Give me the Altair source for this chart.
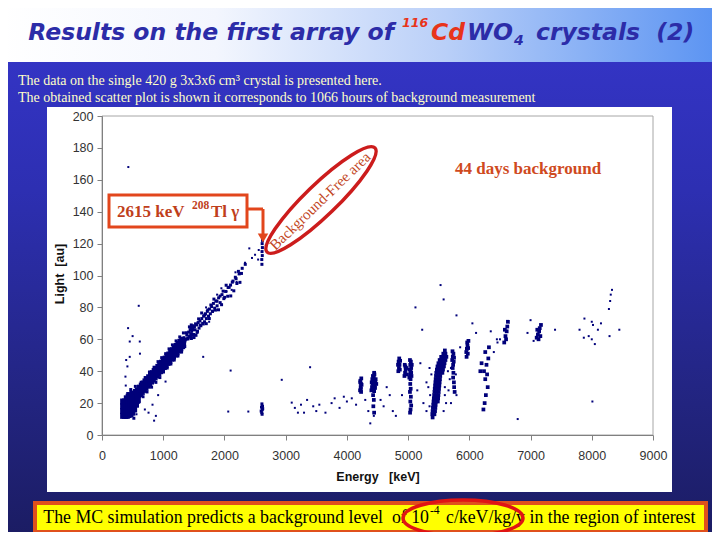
import altair as alt
import pandas as pd

# ---------------- data ----------------
x_ticks = [0, 1000, 2000, 3000, 4000, 5000, 6000, 7000, 8000, 9000]
y_ticks = [0, 20, 40, 60, 80, 100, 120, 140, 160, 180, 200]

# dense gamma band [energy keV, light au]
band_pts = [
    [345, 12], [345, 15], [345, 18], [345, 21],
    [375, 12], [375, 15], [375, 18], [375, 21],
    [405, 12], [405, 15], [405, 18], [405, 21], [405, 23],
    [435, 12.5], [435, 15.5], [435, 18.5], [435, 21.5], [435, 24],
    [465, 13], [465, 16], [465, 19], [465, 22], [465, 25],
    [495, 14], [495, 17], [495, 20], [495, 23], [495, 26],
    [525, 16], [525, 19], [525, 22], [525, 25],
    [555, 19], [555, 22], [555, 25], [555, 27],
    [585, 22], [585, 25], [585, 28], [605, 27],
    [620, 25.7], [620, 29.7], [650, 27.0], [650, 31.0],
    [680, 28.3], [680, 32.3], [710, 29.6], [710, 33.6],
    [740, 30.9], [740, 34.9], [770, 32.2], [770, 36.2],
    [800, 33.5], [800, 37.5], [830, 34.8], [830, 38.8],
    [860, 36.1], [860, 40.1], [890, 37.4], [890, 41.4],
    [920, 38.7], [920, 42.7], [950, 40.0], [950, 44.0],
    [980, 41.3], [980, 45.3], [1010, 42.6], [1010, 46.6],
    [1040, 43.9], [1040, 47.9], [1070, 45.2], [1070, 49.2],
    [1100, 46.5], [1100, 50.5], [1130, 47.9], [1130, 51.9],
    [1160, 49.2], [1160, 53.2], [1190, 50.5], [1190, 54.5],
    [1220, 51.8], [1220, 55.8], [1250, 53.1], [1250, 57.1],
    [1280, 54.4], [1280, 58.4], [1310, 55.7], [1310, 59.7],
    [635, 28.3], [665, 29.6], [695, 30.9], [725, 32.2], [755, 33.5],
    [785, 34.8], [815, 36.2], [845, 37.5], [875, 38.8], [905, 40.1],
    [935, 41.4], [965, 42.7], [995, 44.0], [1025, 45.3], [1055, 46.6],
    [1085, 47.9], [1115, 49.2], [1145, 50.5], [1175, 51.8], [1205, 53.1],
    [1235, 54.4], [1265, 55.7], [1295, 57.0], [1325, 58.3],
]

# speckled continuation of the band, its halo and the 2615 keV peak
trail_pts = [
    [1340, 57.5], [1340, 61], [1355, 59], [1370, 60], [1385, 63], [1400, 61],
    [1415, 64.5], [1430, 62], [1440, 66], [1450, 63.5], [1460, 60.5], [1460, 67.5],
    [1465, 65], [1475, 62.5], [1480, 68.5], [1490, 66], [1500, 63], [1510, 68],
    [1520, 66], [1535, 62.5], [1545, 69], [1560, 65], [1570, 70.5], [1585, 67],
    [1600, 71.5], [1615, 68.5], [1630, 73], [1645, 70], [1660, 74.5], [1675, 71],
    [1690, 76], [1705, 73], [1720, 77.5], [1740, 74.5], [1755, 79], [1770, 76],
    [1790, 80.5], [1805, 77.5], [1820, 82.5], [1840, 79.5], [1860, 84], [1880, 81],
    [1905, 86], [1930, 83], [1960, 88], [1990, 85.5], [2020, 90], [2060, 92.5],
    [2100, 94], [2140, 96.5], [2190, 98], [2240, 101], [2290, 104.5], [2340, 107],
    [1352, 55.5], [1378, 64.1], [1403, 60.2], [1428, 67.8], [1453, 60.9],
    [1478, 66.5], [1503, 61.1], [1528, 69.7], [1553, 64.3], [1578, 72.8],
    [1603, 68.9], [1628, 76.5], [1653, 69.6], [1678, 75.2], [1703, 69.8],
    [1728, 78.4], [1753, 73.0], [1778, 81.5], [1803, 77.6], [1828, 85.2],
    [1853, 78.3], [1878, 83.9], [1903, 78.5], [1928, 87.1], [1953, 81.7],
    [1978, 90.2], [2003, 86.3], [2028, 93.9], [2053, 87.0], [2078, 92.6],
    [2103, 87.2], [2128, 95.8], [2153, 90.4], [2178, 98.9], [2203, 95.0],
    [2228, 102.6], [2253, 95.7], [2278, 101.3],
    [1455, 66], [1462, 63], [1470, 67], [1448, 61.5], [1458, 69],
    [420, 26], [470, 28.5], [520, 10.5], [545, 30.5], [600, 20.5], [640, 33],
    [670, 24], [705, 36], [735, 27], [775, 39.5], [810, 30], [850, 42.5],
    [880, 33], [915, 46], [945, 36], [975, 48.5], [1005, 39.5], [1040, 51],
    [1065, 42], [1095, 54], [1125, 44.5], [1150, 56.5], [1180, 47], [1210, 59],
    [1240, 49.5], [1270, 61.5], [1300, 52], [1330, 64],
    [2600, 15], [2605, 17.5], [2612, 19.5], [2618, 16], [2622, 18], [2610, 14],
    [2625, 16.5], [2615, 13],
    [2612, 107], [2610, 110], [2618, 112.5], [2614, 115], [2620, 117.5],
    [2616, 120], [2622, 122],
]

# alpha clusters
alpha_pts = [
    [4215, 28], [4225, 30], [4230, 32], [4220, 34], [4235, 35.5], [4228, 29],
    [4240, 31.5], [4218, 33], [4232, 27],
    [4400, 28], [4410, 30], [4420, 32], [4430, 34], [4440, 36], [4450, 38],
    [4415, 35], [4435, 29], [4455, 31], [4465, 33], [4445, 27.5], [4425, 37],
    [4470, 35], [4460, 29.5], [4405, 33], [4438, 31.5], [4450, 33.5], [4420, 28.5],
    [4480, 32], [4445, 39], [4428, 25], [4440, 22], [4432, 18], [4445, 14],
    [4840, 40], [4850, 42], [4860, 44], [4845, 46], [4855, 48], [4865, 41],
    [4835, 44], [4870, 46.5],
    [4940, 37], [4950, 39], [4960, 41], [4955, 43], [4970, 38], [4945, 44], [4975, 42],
    [5020, 36], [5030, 38], [5040, 40], [5050, 42], [5035, 44], [5045, 46],
    [5055, 37], [5025, 41], [5060, 44], [5040, 35], [5030, 47], [5050, 39],
    [5035, 32], [5042, 29], [5030, 27], [5045, 24], [5036, 21], [5050, 18.5],
    [5040, 16], [5032, 14],
    [5400, 11], [5395, 13], [5430, 13], [5400, 15], [5440, 15], [5405, 17], [5445, 17],
    [5410, 19], [5450, 19], [5415, 21], [5455, 21], [5485, 21],
    [5420, 23], [5460, 23], [5490, 23], [5425, 25], [5460, 25], [5495, 25],
    [5430, 27], [5465, 27], [5500, 27], [5435, 29], [5470, 29], [5505, 29],
    [5440, 31], [5475, 31], [5510, 31], [5445, 33], [5480, 33], [5515, 33],
    [5450, 35], [5485, 35], [5520, 35], [5455, 37], [5490, 37], [5525, 37],
    [5460, 39], [5495, 39], [5530, 39], [5560, 39],
    [5470, 41], [5505, 41], [5540, 41], [5570, 41],
    [5480, 43], [5515, 43], [5550, 43], [5585, 43],
    [5495, 45], [5530, 45], [5560, 45], [5595, 45],
    [5515, 47], [5545, 47], [5575, 47], [5610, 47],
    [5540, 49], [5570, 49], [5600, 49], [5625, 49],
    [5575, 51], [5610, 51], [5600, 53],
    [5720, 47], [5730, 49], [5740, 51], [5725, 52.5], [5745, 46], [5735, 44],
    [5750, 48.5], [5728, 42], [5740, 39], [5735, 36], [5748, 33], [5752, 30], [5760, 27],
    [5950, 52], [5960, 54], [5970, 56], [5965, 58], [5975, 51], [5955, 49],
    [5980, 54.5], [5985, 59],
    [6240, 40], [6260, 35], [6280, 44], [6300, 30], [6270, 25], [6250, 20],
    [6290, 38], [6310, 48], [6230, 16], [6260, 52], [6320, 55], [6200, 45], [6180, 40],
    [6570, 58], [6590, 62], [6610, 65], [6600, 60], [6620, 68], [6580, 66], [6630, 71],
    [7100, 61], [7120, 63], [7140, 65], [7130, 60], [7150, 67], [7160, 62],
    [7110, 66], [7170, 69],
]

# isolated events
sparse_pts = [
    [430, 168], [600, 81], [426, 67], [453, 58.6], [617, 58.6], [453, 49],
    [415, 43], [383, 36.6], [388, 31], [1038, 33.5], [917, 25], [825, 19],
    [851, 9], [1653, 49], [2101, 40.4], [2062, 14.7], [2390, 14.7], [563, 13],
    [700, 16], [760, 14], [880, 12], [500, 62], [620, 51], [395, 47],
    [2406, 117], [2336, 108], [2254, 101.6], [2199, 96], [2118, 91], [2035, 90],
    [1950, 92], [1880, 88], [2450, 111], [2500, 113], [2550, 110], [2560, 116],
    [1700, 80], [1750, 71], [2180, 102],
    [2936, 34.6], [3399, 42.5], [3099, 20.3], [3150, 17], [3200, 14], [3250, 19],
    [3300, 14], [3350, 22], [3450, 18], [3500, 15], [3550, 19], [3650, 14],
    [3750, 20], [3800, 23], [3880, 17], [3950, 24], [4000, 21], [4080, 23],
    [4150, 19], [4300, 22], [4350, 15], [4382, 7.3], [4440, 12],
    [4550, 22], [4600, 18], [4650, 30], [4700, 25], [4750, 15], [4800, 12],
    [4900, 25], [5150, 28], [5200, 45], [5250, 20], [5300, 33], [5300, 15],
    [5350, 42], [5600, 25], [5680, 35], [5700, 20], [5850, 55], [6350, 65],
    [6400, 52], [6450, 60], [6500, 60], [6460, 58], [7050, 59], [7000, 72],
    [6950, 64], [7400, 66], [7800, 66], [7870, 61], [7880, 73], [7950, 62],
    [8000, 71], [8000, 60], [8020, 69], [8050, 57], [8100, 66], [8150, 70],
    [8280, 79], [8300, 84], [8310, 88], [8330, 91], [8290, 62], [8450, 66],
    [8010, 21], [6790, 10], [5530, 94], [5580, 85], [5120, 80], [5790, 75],
    [5230, 66], [6050, 70], [6110, 64],
    [5330, 30], [5360, 25], [5380, 38], [5600, 30], [5620, 20], [5650, 40],
    [5660, 28], [5700, 42], [5780, 38], [5790, 25], [5350, 18], [5580, 15],
]

# ---------------- layout ----------------
W, H = 551, 319          # plot area
OX, OY = 102, 116        # page position of plot origin


def vx(p):
    return p - OX


def vy(p):
    return p - OY


one = alt.Data(values=[{"k": 1}])


def box(x1, y1, x2, y2, **kw):
    return alt.Chart(one).mark_rect(**kw).encode(
        x=alt.value(vx(x1)), x2=alt.value(vx(x2)),
        y=alt.value(vy(y1)), y2=alt.value(vy(y2)))


def label(s, x, y, **kw):
    return alt.Chart(one).mark_text(text=s, **kw).encode(
        x=alt.value(vx(x)), y=alt.value(vy(y)))


def seg(x1, y1, x2, y2, **kw):
    return alt.Chart(one).mark_rule(**kw).encode(
        x=alt.value(vx(x1)), x2=alt.value(vx(x2)),
        y=alt.value(vy(y1)), y2=alt.value(vy(y2)))


def symbol(x, y, **kw):
    return alt.Chart(one).mark_point(**kw).encode(
        x=alt.value(vx(x)), y=alt.value(vy(y)))


SERIF = "Liberation Serif"
SANS = "Liberation Sans"
NAVY_PT = "#00007a"
ORANGE = "#e2461c"
BROWNRED = "#bf3f1c"

ELL_THIN = ("M -1 0 C -1 -0.116 -0.5523 -0.21 0 -0.21 C 0.5523 -0.21 1 -0.116 1 0 "
            "C 1 0.116 0.5523 0.21 0 0.21 C -0.5523 0.21 -1 0.116 -1 0 Z")
ELL_WIDE = ("M -1 0 C -1 -0.1657 -0.5523 -0.3 0 -0.3 C 0.5523 -0.3 1 -0.1657 1 0 "
            "C 1 0.1657 0.5523 0.3 0 0.3 C -0.5523 0.3 -1 0.1657 -1 0 Z")

layers = []

# slide background
bg_grad = alt.Gradient(gradient="linear", x1=0, x2=0, y1=0, y2=1, stops=[
    alt.GradientStop(color="#3636cc", offset=0),
    alt.GradientStop(color="#2d2fb2", offset=0.35),
    alt.GradientStop(color="#22247f", offset=0.75),
    alt.GradientStop(color="#1b1c62", offset=1)])
layers.append(box(0, 0, 720, 540, fill=bg_grad))

title_grad = alt.Gradient(gradient="linear", x1=0, x2=1, y1=0, y2=0, stops=[
    alt.GradientStop(color="#ffffff", offset=0),
    alt.GradientStop(color="#f3f6fe", offset=0.3),
    alt.GradientStop(color="#b9cff8", offset=0.62),
    alt.GradientStop(color="#5a93f2", offset=1)])
layers.append(box(0, 0, 720, 62, fill=title_grad))

# title
TBLUE = "#2c2ca8"
TRED = "#e8341a"
tkw = dict(font="DejaVu Sans", fontWeight="bold", fontStyle="italic", baseline="alphabetic")
layers += [
    label("Results on the first array of", 394, 40, align="right", fontSize=23.5, color=TBLUE, **tkw),
    label("116", 402, 27, align="left", fontSize=12.5, color=TRED, **tkw),
    label("Cd", 431, 40, align="left", fontSize=23.5, color=TRED, **tkw),
    label("WO", 467, 40, align="left", fontSize=23.5, color=TBLUE, **tkw),
    label("4", 514, 45, align="left", fontSize=14, color=TBLUE, **tkw),
    label("crystals\u00a0\u00a0(2)", 536, 40, align="left", fontSize=23.5, color=TBLUE, **tkw),
]

# intro text
layers += [
    label("The data on the single 420 g 3x3x6 cm\u00b3 crystal is presented here.", 18, 85,
          align="left", baseline="alphabetic", font=SERIF, fontSize=14, color="#ffffc8"),
    label("The obtained scatter plot is shown it corresponds to 1066 hours of background measurement",
          18, 101.5, align="left", baseline="alphabetic", font=SERIF, fontSize=14, color="#ffffc8"),
]

# white chart panel and plot frame
layers.append(box(47, 107, 672, 492, fill="#ffffff"))
layers.append(box(OX, OY, OX + W, OY + H, fill="#ffffff", stroke="#a6a6a6", strokeWidth=1))

# scatter
axis_common = dict(grid=False, domainColor="#808080", tickColor="#808080", tickSize=5,
                   labelFont=SANS, labelFontSize=12.5, labelColor="#333333", title=None,
                   zindex=1, labelFlush=False, format="d")
x_enc = alt.X("energy:Q", scale=alt.Scale(domain=[0, 9000], nice=False),
              axis=alt.Axis(values=x_ticks, labelPadding=9, **axis_common))
y_enc = alt.Y("light:Q", scale=alt.Scale(domain=[0, 200], nice=False),
              axis=alt.Axis(values=y_ticks, labelPadding=4, **axis_common))


def scatter(pts, size):
    df = pd.DataFrame(pts, columns=["energy", "light"])
    return alt.Chart(df).mark_square(size=size, color=NAVY_PT, opacity=1).encode(x=x_enc, y=y_enc)


layers += [scatter(band_pts, 36), scatter(trail_pts, 9), scatter(alpha_pts, 14), scatter(sparse_pts, 4)]

# axis titles
layers += [
    label("Light\u00a0\u00a0[au]", 60, 274, angle=270, align="center", baseline="middle",
          font=SANS, fontWeight="bold", fontSize=12.5, color="#111111"),
    label("Energy\u00a0\u00a0\u00a0[keV]", 378, 481, align="center", baseline="alphabetic",
          font=SANS, fontWeight="bold", fontSize=12.5, color="#111111"),
]

# 2615 keV annotation
layers += [
    box(109, 195, 247, 227, fill="#ffffff", stroke=ORANGE, strokeWidth=3),
    label("2615 keV", 117, 217, align="left", baseline="alphabetic", font=SERIF,
          fontWeight="bold", fontSize=17, color=BROWNRED),
    label("208", 192, 209, align="left", baseline="alphabetic", font=SERIF,
          fontWeight="bold", fontSize=11.5, color=BROWNRED),
    label("Tl \u03b3", 211, 217, align="left", baseline="alphabetic", font=SERIF,
          fontWeight="bold", fontSize=17, color=BROWNRED),
    seg(247, 209, 263, 209, color=ORANGE, strokeWidth=3),
    seg(263, 209, 263, 235, color=ORANGE, strokeWidth=3),
    symbol(263, 238, shape="triangle-down", filled=True, size=110, color=ORANGE, opacity=1),
]

# background-free region
layers += [
    symbol(321, 200, shape=ELL_THIN, size=22500, angle=316, filled=False,
           color="#cc1c1c", strokeWidth=3.5, opacity=1),
    label("Background-Free area", 320, 201, angle=316, align="center", baseline="middle",
          font=SERIF, fontSize=15, color="#c2461e"),
    label("44 days background", 455, 174, align="left", baseline="alphabetic", font=SERIF,
          fontWeight="bold", fontSize=17, color="#cf4a1e"),
]

# bottom statement
layers += [
    box(35, 503, 706, 532, fill="#ffff00", stroke="#e0501c", strokeWidth=4),
    label("The MC simulation predicts a background level\u00a0\u00a0of 10", 429, 523,
          align="right", baseline="alphabetic", font=SERIF, fontSize=17.8, color="#000000"),
    label("-4", 430, 514, align="left", baseline="alphabetic", font=SERIF, fontSize=11.5,
          color="#000000"),
    label("c/keV/kg/y in the region of interest", 446, 523, align="left",
          baseline="alphabetic", font=SERIF, fontSize=17.8, color="#000000"),
    symbol(463, 518, shape=ELL_WIDE, size=14400, filled=False, color="#e01414",
           strokeWidth=3.5, opacity=1),
]

chart = alt.layer(*layers).properties(
    width=W, height=H,
    padding={"left": OX - 8, "top": OY - 8, "right": 720 - 8 - OX - W, "bottom": 540 - 8 - OY - H},
    autosize=alt.AutoSizeParams(type="none"),
    background="#1b1c62",
).configure_view(stroke=None)

chart.save("out.html", embed_options={"renderer": "svg", "actions": False})
